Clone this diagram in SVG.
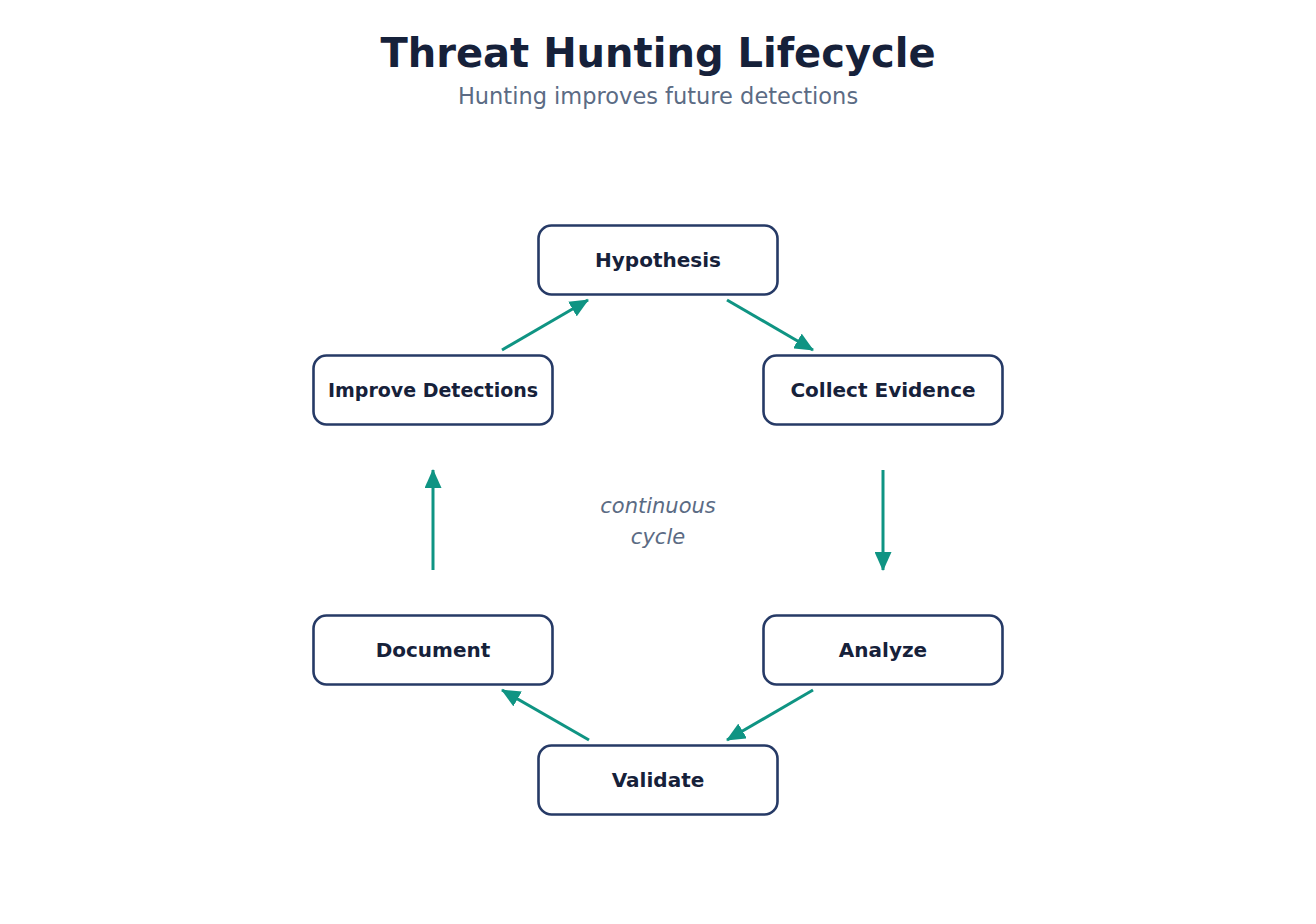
<svg xmlns="http://www.w3.org/2000/svg" width="1316" height="924" viewBox="0 0 1316 924">
<defs>
<style>
.node rect{fill:#ffffff;stroke:#263a66;stroke-width:2.6}
.node text{font-family:"DejaVu Sans",sans-serif;font-weight:bold;font-size:20px;fill:#16213a;text-anchor:middle;dominant-baseline:central}
.edge{stroke:#0f9483;stroke-width:3;fill:none;marker-end:url(#ah)}
.title{font-family:"DejaVu Sans",sans-serif;font-weight:bold;font-size:40px;fill:#16213a;text-anchor:middle}
.sub{font-family:"DejaVu Sans",sans-serif;font-size:22.5px;fill:#5b6b84;text-anchor:middle}
.note{font-family:"DejaVu Sans",sans-serif;font-style:italic;font-size:21px;fill:#5b6b84;text-anchor:middle}
</style>
<marker id="ah" markerUnits="userSpaceOnUse" markerWidth="19" markerHeight="17" refX="18" refY="8.5" orient="auto">
<path d="M0,0 L19,8.5 L0,17 Z" fill="#0f9483"/>
</marker>
</defs>
<rect width="1316" height="924" fill="#ffffff"/>
<text class="title" x="658" y="67">Threat Hunting Lifecycle</text>
<text class="sub" x="658" y="104">Hunting improves future detections</text>
<g id="connectors">
<line class="edge" x1="502" y1="350" x2="588" y2="300"/>
<line class="edge" x1="727" y1="300" x2="813" y2="350"/>
<line class="edge" x1="883" y1="470" x2="883" y2="570"/>
<line class="edge" x1="813" y1="690" x2="727" y2="740"/>
<line class="edge" x1="589" y1="740" x2="502" y2="690"/>
<line class="edge" x1="433" y1="570" x2="433" y2="470"/>
</g>
<g id="hypothesis" class="node"><rect x="538.5" y="225.5" width="239" height="69" rx="13"/><text x="658" y="260">Hypothesis</text></g>
<g id="collect" class="node"><rect x="763.5" y="355.5" width="239" height="69" rx="13"/><text x="883" y="390">Collect Evidence</text></g>
<g id="analyze" class="node"><rect x="763.5" y="615.5" width="239" height="69" rx="13"/><text x="883" y="650">Analyze</text></g>
<g id="validate" class="node"><rect x="538.5" y="745.5" width="239" height="69" rx="13"/><text x="658" y="780">Validate</text></g>
<g id="document" class="node"><rect x="313.5" y="615.5" width="239" height="69" rx="13"/><text x="433" y="650">Document</text></g>
<g id="improve" class="node"><rect x="313.5" y="355.5" width="239" height="69" rx="13"/><text x="433" y="390" style="font-size:19px">Improve Detections</text></g>
<text class="note" x="658" y="513">continuous</text>
<text class="note" x="658" y="544">cycle</text>
</svg>
